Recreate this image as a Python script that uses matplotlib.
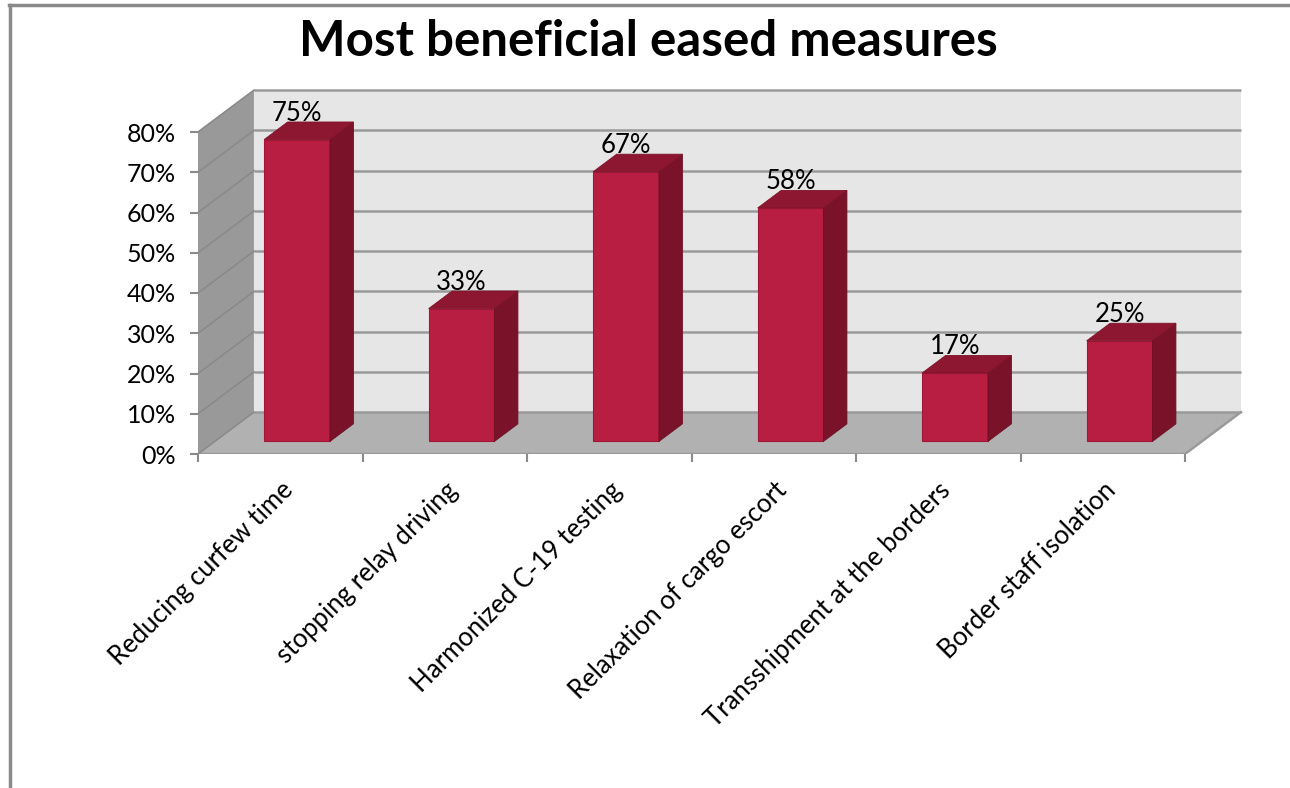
import matplotlib
matplotlib.use("Agg")
import matplotlib.pyplot as plt
import numpy as np

plt.rcParams["font.family"] = ["Lato", "DejaVu Sans"]

# data
categories = ["Reducing curfew time", "stopping relay driving", "Harmonized C-19 testing",
              "Relaxation of cargo escort", "Transshipment at the borders", "Border staff isolation"]
values = [75, 33, 67, 58, 17, 25]
y_ticks = [0, 10, 20, 30, 40, 50, 60, 70, 80]
y_labels = ["0%", "10%", "20%", "30%", "40%", "50%", "60%", "70%", "80%"]

# fake 3d geometry (in data units)
DX, DY = 0.34, 10.4      # depth vector of floor
F1, F2 = 0.30, 0.72      # bar front/back depth fractions
BW = 0.4                 # bar width
YMAX = 80
n = len(categories)

c_front = "#B81E41"
c_side = "#7A1229"
c_top = "#8D1631"
c_back = "#E6E6E6"
c_wall = "#999999"
c_floor = "#B1B1B1"
c_grid = "#9A9A9A"

fig = plt.figure(figsize=(12.9, 7.88), dpi=100)
ax = fig.add_axes([198/1290, (788-454)/788, 1062/1290, 374/788])
ax.set_xlim(0, 1062/164.5)
ax.set_ylim(0, 374/4.025)
ax.patch.set_visible(False)
for s in ax.spines.values():
    s.set_visible(False)

# back wall
ax.fill([DX, n+DX, n+DX, DX], [DY, DY, YMAX+DY, YMAX+DY], color=c_back, lw=0, zorder=1)
# side wall
ax.fill([0, DX, DX, 0], [0, DY, YMAX+DY, YMAX], color=c_wall, lw=0, zorder=1)
# floor
ax.fill([0, n, n+DX, DX], [0, 0, DY, DY], color=c_floor, lw=0, zorder=1)

# gridlines on back and side walls
for v in y_ticks:
    ax.plot([DX, n+DX], [v+DY, v+DY], color=c_grid, lw=1.8, zorder=2, solid_capstyle="butt")
    if v > 0:
        ax.plot([0, DX], [v, v+DY], color="#8A8A8A", lw=1.2, zorder=2)
# floor edges
ax.plot([0, n, n+DX], [0, 0, DY], color=c_grid, lw=1.8, zorder=2)
ax.plot([0, DX], [0, DY], color="#8A8A8A", lw=1.2, zorder=2)

# bars
for i, v in enumerate(values):
    x0 = i + 0.5 - BW/2 + F1*DX
    x1 = x0 + BW
    y0 = F1*DY
    y1 = y0 + v
    ddx = (F2-F1)*DX
    ddy = (F2-F1)*DY
    ax.fill([x0, x1, x1, x0], [y0, y0, y1, y1], color=c_front, ec="#A01838", lw=0.8, zorder=3)
    ax.fill([x1, x1+ddx, x1+ddx, x1], [y0, y0+ddy, y1+ddy, y1], color=c_side, ec="#6E1024", lw=0.6, zorder=3)
    ax.fill([x0, x1, x1+ddx, x0+ddx], [y1, y1, y1+ddy, y1+ddy], color=c_top, ec="#7E1329", lw=0.6, zorder=3)
    ax.text((x0+x1)/2, y1+ddy+0.3, f"{v}%", ha="center", va="baseline", fontsize=18.5, zorder=4)

# axes ticks
ax.set_yticks(y_ticks, y_labels)
ax.tick_params(axis="y", length=6, width=1.5, color="#8A8A8A", labelsize=18, pad=10)
ax.set_xticks(np.arange(n) + 0.5, categories, rotation=45, ha="right", rotation_mode="anchor")
ax.tick_params(axis="x", which="major", length=0, labelsize=18.5, pad=17)
ax.set_xticks(np.arange(n+1), minor=True)
ax.tick_params(axis="x", which="minor", length=6, width=1.5, color="#8A8A8A")

fig.text(648/1290, 1-56/788, "Most beneficial eased measures", ha="center", va="baseline",
         fontsize=35.5, fontweight="bold")

# frame lines of the slide box
fig.add_artist(plt.Line2D([9/1290, 1], [1-5/788, 1-5/788], color="#8A8A8A", lw=2.5))
fig.add_artist(plt.Line2D([10/1290, 10/1290], [0, 1-5/788], color="#8A8A8A", lw=2.5))

fig.savefig("out.png", dpi=100)
